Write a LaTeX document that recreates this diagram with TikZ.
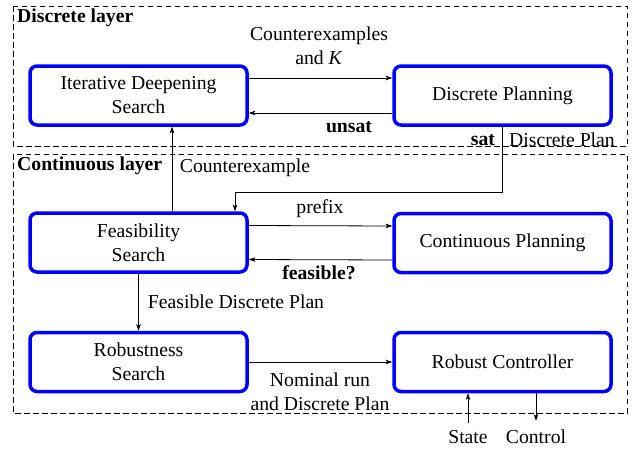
\documentclass[tikz,border=0pt]{standalone}
\usepackage{fontspec}
\setmainfont{Liberation Serif}
\newfontfamily\myserif{Liberation Serif}
\usetikzlibrary{arrows.meta,calc}
\tikzset{
  blk/.style={draw=blue, line width=3.5pt, rounded corners=7pt, minimum width=217pt, minimum height=59pt, inner sep=0pt, align=center, fill=white},
  layer/.style={draw, dashed, dash pattern=on 5.5pt off 3.5pt, line width=0.8pt},
  conn/.style={line width=0.8pt, -{Stealth[length=6.5pt,width=4.5pt,inset=1.5pt]}},
  lbl/.style={inner sep=0pt, align=center},
  bf/.style={font=\myserif\fontsize{19.7}{24}\selectfont\bfseries},
  every node/.append style={font=\myserif\fontsize{19.7}{24}\selectfont}
}
\begin{document}
\begin{tikzpicture}[x=1pt,y=-1pt]
\useasboundingbox (0,0) rectangle (633,453);
% layers
\draw[layer] (13,6) rectangle (627,146);
\draw[layer] (13,154) rectangle (627,413);
\node[lbl, anchor=west, bf] (dl) at (17,18) {Discrete layer};
\node[lbl, anchor=west, bf] (cl) at (17,166) {Continuous layer};
% blocks
\node[blk] (ids) at (138.5,95.5) {Iterative Deepening\\Search};
\node[blk] (dp) at (502.5,95.5) {Discrete Planning};
\node[blk] (fs) at (138.5,242.5) {Feasibility\\Search};
\node[blk] (cp) at (502.5,243) {Continuous Planning};
\node[blk] (rs) at (138.5,362) {Robustness\\Search};
\node[blk] (rc) at (502.5,362) {Robust Controller};
% discrete layer connectors
\draw[conn] ([yshift=17.5pt]ids.east) -- ([yshift=17.5pt]dp.west);
\draw[conn] ([yshift=-17.5pt]dp.west) -- ([yshift=-17.5pt]ids.east);
\node[lbl] (cek) at (319,46) {Counterexamples\\and \textit{K}};
\node[lbl, bf] (unsat) at (349,127) {unsat};
% sat path
\coordinate (bend) at (235,192);
\draw[conn] (dp.south) |- (bend) -- (bend |- fs.north);
\node[lbl, bf] (sat) at (483,140) {sat};
\node[lbl] (dplan) at (562,140) {Discrete Plan};
% counterexample up
\draw[conn] ([xshift=33.5pt]fs.north) -- ([xshift=33.5pt]ids.south);
\node[lbl] (cex) at (245,168) {Counterexample};
% continuous planning
\draw[conn] ([yshift=17pt]fs.east) -- ([yshift=17pt]cp.west);
\draw[conn] ([yshift=-17pt]cp.west) -- ([yshift=-17pt]fs.east);
\node[lbl] (prefix) at (320,209) {prefix};
\node[lbl, bf] (feas) at (319,273) {feasible?};
% feasibility to robustness
\draw[conn] (fs.south) -- (rs.north);
\node[lbl] (fdp) at (236,302) {Feasible Discrete Plan};
% robustness to controller
\draw[conn] (rs.east) -- (rc.west);
\node[lbl] (nom) at (320,391.5) {Nominal run\\and Discrete Plan};
% state and control
\node[lbl] (state) at (468,437) {State};
\node[lbl] (control) at (536,437) {Control};
\draw[conn] ([yshift=7pt]state.north) -- (state.north |- rc.south);
\draw[conn] (control.north |- rc.south) -- ([yshift=9pt]control.north);
\end{tikzpicture}
\end{document}
